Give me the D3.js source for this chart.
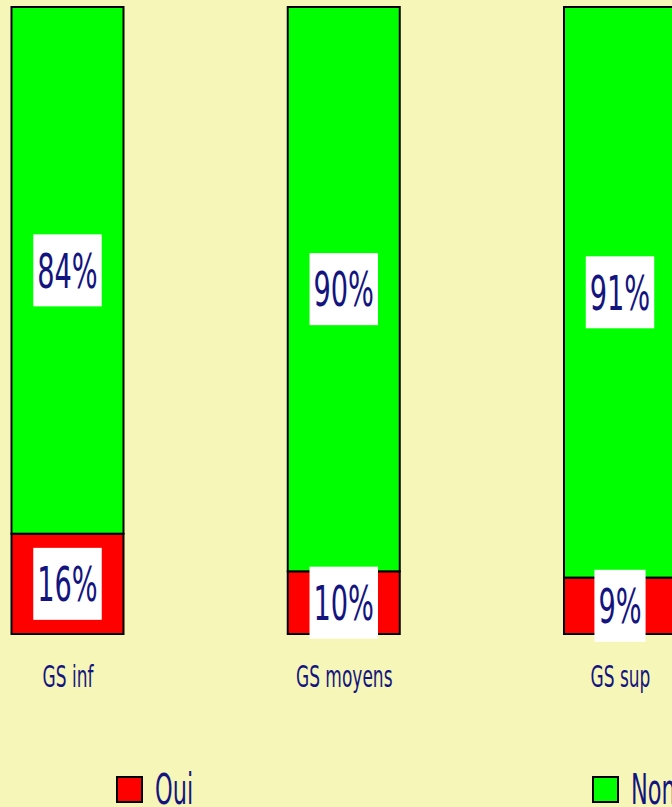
<!DOCTYPE html>
<html>
<head>
<meta charset="utf-8">
<script src="https://cdn.jsdelivr.net/npm/d3@7"></script>
<style>
  html, body { margin: 0; padding: 0; background: #F6F6B9; }
  svg { display: block; }
  text { font-family: "Liberation Sans Narrow", "DejaVu Sans Condensed", "Roboto", sans-serif; }
</style>
</head>
<body>
<svg id="chart" width="672" height="807"></svg>
<script>
// ---- data ----
const categories = ["GS inf", "GS moyens", "GS sup"];
const seriesNames = ["Oui", "Non"];
const ouiValues = [16, 10, 9];
const nonValues = [84, 90, 91];
const seriesColors = ["#FF0000", "#00FF00"];

// ---- layout ----
const svg = d3.select("#chart");
const textColor = "#14147F";
const condense = 0.63;

const x = d3.scalePoint().domain(categories).range([67.5, 620]);
const y = d3.scaleLinear().domain([0, 100]).range([634, 7]);
const barW = 112;

const rows = categories.map((c, i) => ({ cat: c, Oui: ouiValues[i], Non: nonValues[i] }));
const stacked = d3.stack().keys(seriesNames)(rows);
const color = d3.scaleOrdinal().domain(seriesNames).range(seriesColors);

function condenseText(sel, k) {
  sel.each(function() {
    const w = this.getComputedTextLength();
    d3.select(this).attr("textLength", w * (k || condense)).attr("lengthAdjust", "spacingAndGlyphs");
  });
}

// bars
const layers = svg.append("g").selectAll("g").data(stacked).join("g")
  .attr("fill", d => color(d.key));
layers.selectAll("rect").data(d => d).join("rect")
  .attr("x", d => x(d.data.cat) - barW / 2)
  .attr("y", d => y(d[1]))
  .attr("width", barW)
  .attr("height", d => y(d[0]) - y(d[1]))
  .attr("stroke", "#000")
  .attr("stroke-width", 2);

// value labels
const labelSize = 48;
const labelG = svg.append("g");
stacked.forEach(layer => {
  layer.forEach(d => {
    const v = d[1] - d[0];
    const cx = x(d.data.cat);
    const cy = (y(d[0]) + y(d[1])) / 2;
    const g = labelG.append("g");
    const t = g.append("text")
      .attr("x", cx).attr("y", cy + labelSize * 0.72 / 2)
      .attr("text-anchor", "middle")
      .attr("font-size", labelSize)
      .attr("fill", textColor)
      .text(v + "%");
    condenseText(t);
    const w = +t.attr("textLength") + 8;
    g.insert("rect", "text")
      .attr("x", cx - w / 2).attr("y", cy - 36)
      .attr("width", w).attr("height", 72)
      .attr("fill", "#FFFFFF");
  });
});

// category axis labels
const axisG = svg.append("g").attr("transform", "translate(0,687)");
axisG.call(d3.axisBottom(x).tickSize(0).tickPadding(0))
  .call(g => g.select(".domain").remove());
axisG.selectAll("text")
  .attr("y", 0).attr("dy", 0)
  .attr("font-size", 30)
  .attr("font-family", null)
  .attr("fill", textColor)
  .call(condenseText);

// legend
const legendX = d3.scalePoint().domain(seriesNames).range([117, 593]);
const leg = svg.append("g").selectAll("g").data(seriesNames).join("g")
  .attr("transform", d => `translate(${legendX(d)},777)`);
leg.append("rect")
  .attr("width", 25).attr("height", 25)
  .attr("fill", d => color(d))
  .attr("stroke", "#000").attr("stroke-width", 2);
leg.append("text")
  .attr("x", 38).attr("y", 27)
  .attr("font-size", 43)
  .attr("fill", textColor)
  .text(d => d)
  .call(condenseText, 0.58);
</script>
</body>
</html>
